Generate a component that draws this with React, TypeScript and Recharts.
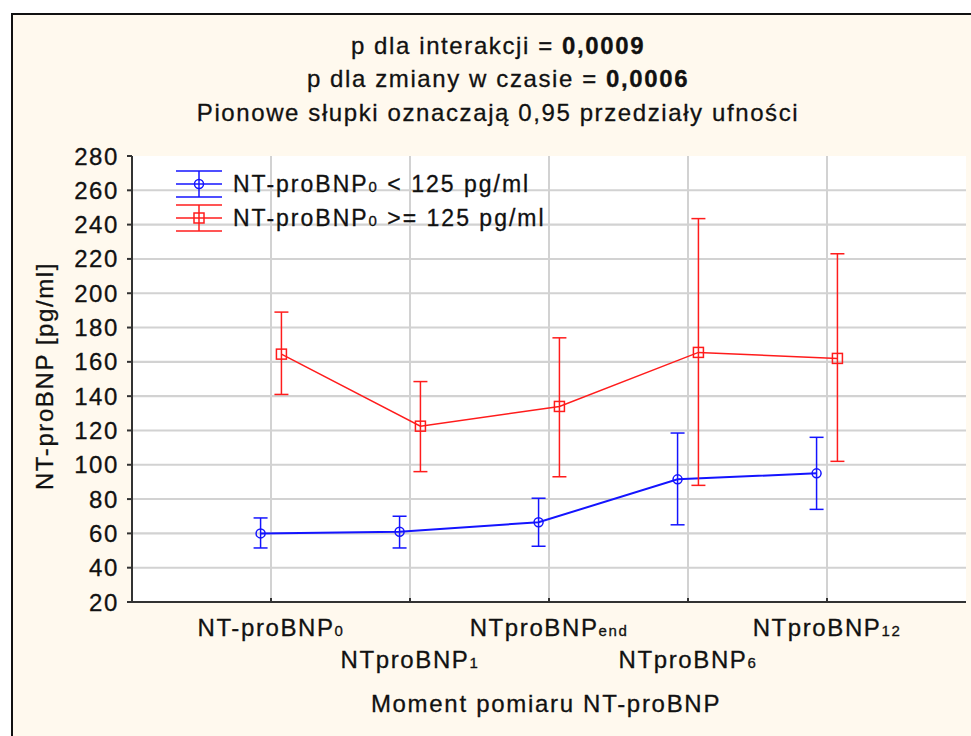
import React from "react";
import { LineChart, Line, XAxis, YAxis, CartesianGrid, ErrorBar, Legend, ReferenceLine, ReferenceArea } from "recharts";

const FONT = "'Liberation Sans', Arial, sans-serif";
const BG = "#fff9ee";
const BLUE = "#1414ff";
const RED = "#ff1c1c";
const GRID = "#d2d2d2";
const AXIS = "#333";

// categories (main part + subscript)
const tickMain = ["NT-proBNP", "NTproBNP", "NTproBNP", "NTproBNP", "NTproBNP"];
const tickSub = ["0", "1", "end", "6", "12"];
const catPos = [1, 2, 3, 4, 5];

// NT-proBNP0 < 125 pg/ml
const lowMean = [60, 61, 66.5, 91.5, 95];
const lowLower = [51.5, 51.5, 52.5, 65, 74];
const lowUpper = [69, 70, 80.5, 118.5, 116];

// NT-proBNP0 >= 125 pg/ml
const highMean = [164.5, 122.5, 134, 165.5, 162];
const highLower = [141, 96, 93, 88, 102];
const highUpper = [189, 148.5, 174, 243.5, 223];

const seriesNames = ["NT-proBNP0 < 125 pg/ml", "NT-proBNP0 >= 125 pg/ml"];
const legendParts = [
  ["NT-proBNP", "0", " < 125 pg/ml"],
  ["NT-proBNP", "0", " >= 125 pg/ml"],
];
const seriesColors = [BLUE, RED];
const seriesShapes = ["circle", "square"];

const yTicks = [20, 40, 60, 80, 100, 120, 140, 160, 180, 200, 220, 240, 260, 280];
const Y_MIN = 20;
const Y_MAX = 280;
const X_MIN = 0;
const X_MAX = 6;

// half thickness of a horizontal grid band, in data units
const GRID_HALF = 0.6;

// small horizontal offset so the two groups do not overlap
const SHIFT = 0.075;

const build = (mean: number[], lower: number[], upper: number[], shift: number) =>
  mean.map((m, i) => ({ x: catPos[i] + shift, y: m, err: [m - lower[i], upper[i] - m] }));

const lowData = build(lowMean, lowLower, lowUpper, -SHIFT);
const highData = build(highMean, highLower, highUpper, SHIFT);

const Marker = ({ shape, color, cx, cy }: any) =>
  shape === "circle" ? (
    <circle cx={cx} cy={cy} r={4.5} fill="none" stroke={color} strokeWidth={1.5} />
  ) : (
    <rect x={cx - 5} y={cy - 5} width={10} height={10} fill="none" stroke={color} strokeWidth={1.5} />
  );

const XTick = ({ x, y, payload }: any) => {
  const i = catPos.indexOf(payload.value);
  if (i < 0) return null;
  return (
    <text
      x={x}
      y={y + (i % 2 ? 66 : 34)}
      textAnchor="middle"
      fontFamily={FONT}
      fontSize={24}
      letterSpacing={1.6}
      fill="#111"
      stroke="#111"
      strokeWidth={0.3}
    >
      {tickMain[i]}
      <tspan fontSize={15}>{tickSub[i]}</tspan>
    </text>
  );
};

const renderLegend = () => (
  <div style={{ fontFamily: FONT }}>
    {seriesNames.map((n, i) => {
      const color = seriesColors[i];
      const p = legendParts[i];
      return (
        <div key={n} style={{ display: "flex", alignItems: "center", height: 34 }}>
          <svg width={46} height={30} style={{ display: "block" }}>
            <line x1={0} x2={46} y1={2} y2={2} stroke={color} strokeWidth={1.5} />
            <line x1={0} x2={46} y1={15} y2={15} stroke={color} strokeWidth={1.5} />
            <line x1={0} x2={46} y1={28} y2={28} stroke={color} strokeWidth={1.5} />
            <line x1={23} x2={23} y1={2} y2={28} stroke={color} strokeWidth={1.5} />
            <Marker shape={seriesShapes[i]} color={color} cx={23} cy={15} />
          </svg>
          <span
            style={{
              marginLeft: 11,
              fontSize: 23,
              letterSpacing: 2,
              color: "#111",
              whiteSpace: "nowrap",
              WebkitTextStroke: "0.3px #111",
            }}
          >
            {p[0]}
            <span style={{ fontSize: 15 }}>{p[1]}</span>
            {p[2]}
          </span>
        </div>
      );
    })}
  </div>
);

const titleStyle: React.CSSProperties = {
  position: "absolute",
  left: 0,
  width: 996,
  textAlign: "center",
  fontFamily: FONT,
  fontSize: 24,
  letterSpacing: 1.6,
  color: "#111",
  whiteSpace: "nowrap",
  lineHeight: "28px",
  WebkitTextStroke: "0.3px #111",
};

const textStroke = { stroke: "#111", strokeWidth: 0.3 };

export default function App() {
  return (
    <div style={{ position: "absolute", left: 0, top: 0, width: 971, height: 736, overflow: "hidden", background: "#fff" }}>
      <div
        style={{
          position: "absolute",
          left: 11,
          top: 13,
          width: 1000,
          height: 800,
          border: "2px solid #111",
          background: BG,
        }}
      />
      <div style={{ ...titleStyle, top: 32 }}>
        p dla interakcji = <b>0,0009</b>
      </div>
      <div style={{ ...titleStyle, top: 65 }}>
        p dla zmiany w czasie = <b>0,0006</b>
      </div>
      <div style={{ ...titleStyle, top: 99 }}>Pionowe słupki oznaczają 0,95 przedziały ufności</div>

      <div style={{ position: "absolute", left: 0, top: 0 }}>
        <LineChart width={971} height={736} margin={{ top: 156, right: 5, bottom: 0, left: 0 }}>
          <CartesianGrid xAxisId="b" yAxisId="l" fill="#fff" horizontal={false} vertical={false} />
          {yTicks.slice(1, -1).map((t) => (
            <ReferenceArea
              key={`gy-${t}`}
              xAxisId="b"
              yAxisId="l"
              x1={X_MIN}
              x2={X_MAX}
              y1={t - GRID_HALF}
              y2={t + GRID_HALF}
              fill={GRID}
              fillOpacity={1}
              stroke="none"
            />
          ))}
          {catPos.map((c) => (
            <ReferenceLine key={`gx-${c}`} xAxisId="b" yAxisId="l" x={c} stroke={GRID} strokeWidth={2} />
          ))}
          <XAxis
            xAxisId="b"
            type="number"
            dataKey="x"
            domain={[X_MIN, X_MAX]}
            ticks={catPos}
            orientation="bottom"
            height={134}
            stroke={AXIS}
            strokeWidth={2}
            tickSize={-4}
            tickMargin={4}
            tick={<XTick />}
            interval={0}
            allowDataOverflow
            label={(p: any) => {
              const vb = p.viewBox || { x: 132, y: 602, width: 834 };
              return (
                <text
                  x={vb.x + vb.width / 2 - 3}
                  y={vb.y + 110}
                  textAnchor="middle"
                  fontFamily={FONT}
                  fontSize={24}
                  letterSpacing={1.7}
                  fill="#111"
                  {...textStroke}
                >
                  Moment pomiaru NT-proBNP
                </text>
              );
            }}
          />
          <XAxis
            xAxisId="t"
            type="number"
            dataKey="x"
            domain={[X_MIN, X_MAX]}
            ticks={catPos}
            orientation="top"
            height={0}
            mirror
            tick={false}
            tickSize={4}
            stroke={AXIS}
            strokeWidth={2}
            allowDataOverflow
          />
          <YAxis
            yAxisId="l"
            type="number"
            domain={[Y_MIN, Y_MAX]}
            ticks={yTicks}
            interval={0}
            width={132}
            stroke={AXIS}
            strokeWidth={2}
            tickSize={5}
            tickMargin={8}
            allowDataOverflow
            tick={{ fontFamily: FONT, fontSize: 24, letterSpacing: 1.6, fill: "#111", ...textStroke }}
            label={() => (
              <text
                x={53}
                y={376}
                transform="rotate(-90, 53, 376)"
                textAnchor="middle"
                fontFamily={FONT}
                fontSize={24}
                letterSpacing={1.6}
                fill="#111"
                {...textStroke}
              >
                NT-proBNP [pg/ml]
              </text>
            )}
          />
          <YAxis
            yAxisId="r"
            orientation="right"
            type="number"
            domain={[Y_MIN, Y_MAX]}
            ticks={yTicks}
            width={0}
            mirror
            tick={false}
            tickSize={4}
            stroke={AXIS}
            strokeWidth={2}
            allowDataOverflow
          />
          <Legend
            layout="horizontal"
            verticalAlign="middle"
            align="center"
            wrapperStyle={{ left: 176, top: 167, width: 420, height: 70 }}
            content={renderLegend}
          />
          <Line
            xAxisId="b"
            yAxisId="l"
            data={lowData}
            dataKey="y"
            name={seriesNames[0]}
            type="linear"
            stroke={BLUE}
            strokeWidth={2}
            isAnimationActive={false}
            dot={(p: any) => <Marker key={`lo-${p.index}`} shape="circle" color={BLUE} cx={p.cx} cy={p.cy} />}
            activeDot={false}
          >
            <ErrorBar dataKey="err" direction="y" width={7} stroke={BLUE} strokeWidth={1.5} isAnimationActive={false} />
          </Line>
          <Line
            xAxisId="b"
            yAxisId="l"
            data={highData}
            dataKey="y"
            name={seriesNames[1]}
            type="linear"
            stroke={RED}
            strokeWidth={1.5}
            isAnimationActive={false}
            dot={(p: any) => <Marker key={`hi-${p.index}`} shape="square" color={RED} cx={p.cx} cy={p.cy} />}
            activeDot={false}
          >
            <ErrorBar dataKey="err" direction="y" width={7} stroke={RED} strokeWidth={1.5} isAnimationActive={false} />
          </Line>
        </LineChart>
      </div>
    </div>
  );
}
